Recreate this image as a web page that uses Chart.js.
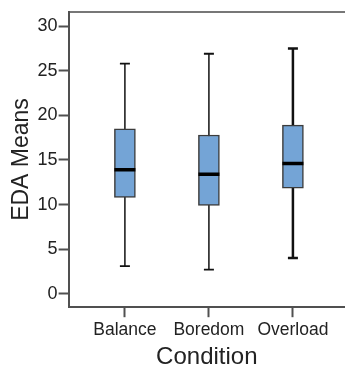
<!DOCTYPE html>
<html>
<head>
<meta charset="utf-8">
<script src="https://cdn.jsdelivr.net/npm/chart.js@4"></script>
<style>
  html, body { margin: 0; padding: 0; background: #fff; }
  #wrap { width: 345px; height: 367px; }
</style>
</head>
<body>
<div id="wrap"><canvas id="boxCanvas"></canvas></div>
<script>
var categories = ["Balance", "Boredom", "Overload"];
var whiskerLow = [3.1, 2.7, 4.0];
var q1 = [10.8, 9.9, 11.85];
var median = [13.9, 13.4, 14.6];
var q3 = [18.5, 17.8, 18.9];
var whiskerHigh = [25.8, 26.9, 27.5];
var yTicks = [0, 5, 10, 15, 20, 25, 30];

var axisColor = "#505050";
var textColor = "#222";

var datasets = [];

// whiskers (drawn behind boxes), caps as line-style points
categories.forEach(function (c, i) {
  datasets.push({
    type: "line",
    data: [{ x: i + 1, y: whiskerLow[i] }, { x: i + 1, y: whiskerHigh[i] }],
    borderColor: "#111",
    borderWidth: i === 2 ? 2.5 : 1.5,
    pointStyle: "line",
    pointRadius: 5,
    pointBorderWidth: i === 2 ? 2.5 : 1.8,
    pointBorderColor: "#111",
    order: 3
  });
});

// boxes q1..q3
datasets.push({
  type: "bar",
  data: categories.map(function (c, i) { return { x: i + 1, y: [q1[i], q3[i]] }; }),
  backgroundColor: "#74a4d6",
  borderColor: "#3c3c3c",
  borderWidth: 1.5,
  borderSkipped: false,
  barThickness: 21,
  order: 2
});

// medians
datasets.push({
  type: "line",
  data: categories.map(function (c, i) { return { x: i + 1, y: median[i] }; }),
  showLine: false,
  pointStyle: "line",
  pointRadius: 10.5,
  pointBorderWidth: 3.5,
  pointBorderColor: "#000",
  order: 1
});

var ctx = document.getElementById("boxCanvas");
var chart = new Chart(ctx, {
  type: "bar",
  data: { datasets: datasets },
  options: {
    responsive: true,
    maintainAspectRatio: false,
    animation: false,
    layout: { autoPadding: false, padding: { top: 1, right: 0, left: 8, bottom: -5 } },
    plugins: { legend: { display: false }, tooltip: { enabled: false } },
    scales: {
      x: {
        type: "linear",
        offset: false,
        min: 0.33,
        max: 3.62,
        afterBuildTicks: function (scale) {
          scale.ticks = [1, 2, 3].map(function (v) { return { value: v }; });
        },
        ticks: {
          color: textColor,
          padding: 2,
          maxRotation: 0,
          font: { family: "Liberation Sans", size: 17.5 },
          callback: function (v) { return categories[v - 1]; }
        },
        grid: { drawOnChartArea: false, drawTicks: true, tickLength: 10, tickColor: axisColor, tickWidth: 2, offset: false },
        border: { color: axisColor, width: 2 },
        title: { display: true, text: "Condition", color: textColor, padding: { top: 1, bottom: 0 }, font: { family: "Liberation Sans", size: 24 } }
      },
      x2: {
        type: "linear",
        position: "top",
        min: 0,
        max: 1,
        ticks: { display: false },
        grid: { drawOnChartArea: false, drawTicks: false },
        border: { color: "#777", width: 2 }
      },
      y: {
        min: -1.5,
        max: 31.6,
        afterBuildTicks: function (scale) {
          scale.ticks = yTicks.map(function (v) { return { value: v }; });
        },
        ticks: {
          color: textColor,
          padding: 1,
          font: { family: "Liberation Sans", size: 18 }
        },
        grid: { drawOnChartArea: false, drawTicks: true, tickLength: 10, tickColor: axisColor, tickWidth: 2 },
        border: { color: axisColor, width: 2 },
        title: { display: true, text: "EDA Means", color: textColor, padding: { top: 0, bottom: 1 }, font: { family: "Liberation Sans", size: 23 } }
      }
    }
  }
});
</script>
</body>
</html>
